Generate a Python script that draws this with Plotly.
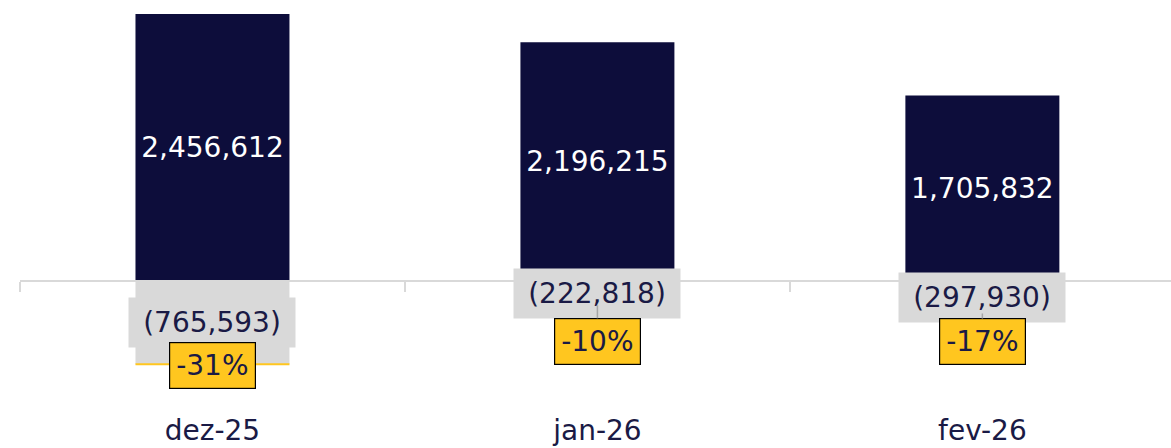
import plotly.graph_objects as go

# ---- data ----
categories = ["dez-25", "jan-26", "fev-26"]
positive_values = [2456612, 2196215, 1705832]
negative_values = [-765593, -222818, -297930]
pct_change = [-0.31, -0.10, -0.17]

# ---- style ----
NAVY = "#0D0D3B"
GREY = "#D9D9D9"
YELLOW = "#FFC61F"
TEXT_NAVY = "#1A1A45"
FONT = "DejaVu Sans"
FW = 400
pct_label_offsets_px = [1, 36, 28]   # how far each % label sits below its bar end

W, H = 1171, 448
M_L, M_R, M_T, M_B = 20, 0, 0, 37
plot_h = H - M_T - M_B
zero_px = 281                      # pixel row of the zero line
units_per_px = 9201.0
y_max = zero_px * units_per_px
y_min = -(plot_h - zero_px) * units_per_px
x_range = [-0.5, 2.49]

fig = go.Figure()
fig.add_trace(go.Bar(
    x=categories, y=positive_values, width=0.4,
    marker=dict(color=NAVY, line=dict(width=0)),
    texttemplate="%{y:,}", textposition="inside", insidetextanchor="middle",
    textangle=0, textfont=dict(family=FONT, size=28, color="white", weight=FW),
    hoverinfo="skip",
))
fig.add_trace(go.Bar(
    x=categories, y=negative_values, width=0.4,
    marker=dict(color=GREY, line=dict(width=0)),
    hoverinfo="skip",
))
fig.add_trace(go.Bar(
    x=categories, y=pct_change, width=0.4,
    marker=dict(color=YELLOW, line=dict(color=YELLOW, width=2)),
    hoverinfo="skip",
))
# invisible helper trace so the zero-line axis (x2) is drawn
fig.add_trace(go.Scatter(x=[None], y=[None], xaxis="x2", yaxis="y",
                         mode="markers", hoverinfo="skip", showlegend=False))

# grey value labels for negative bars
for c, v in zip(categories, negative_values):
    fig.add_annotation(
        x=c, y=v / 2, xref="x", yref="y", text=f"({abs(v):,})",
        showarrow=False, bgcolor=GREY, width=164, height=47,
        font=dict(family=FONT, size=28, color=TEXT_NAVY, weight=FW),
    )

# yellow percentage labels
for c, v, p, off in zip(categories, negative_values, pct_change, pct_label_offsets_px):
    fig.add_annotation(
        x=c, y=v, xref="x", yref="y", text=f"{p:.0%}",
        showarrow=True, ax=0, ay=off, arrowhead=0, arrowwidth=1.5,
        arrowcolor="#A6A6A6", standoff=0, startstandoff=0,
        bgcolor=YELLOW, bordercolor="black", borderwidth=1.2, borderpad=6,
        font=dict(family=FONT, size=28, color=TEXT_NAVY, weight=FW),
    )

zero_pos = -y_min / (y_max - y_min)

fig.update_layout(
    width=W, height=H,
    margin=dict(l=M_L, r=M_R, t=M_T, b=M_B, pad=0, autoexpand=False),
    barmode="relative",
    plot_bgcolor="white", paper_bgcolor="white",
    showlegend=False,
    xaxis=dict(
        type="category", categoryorder="array", categoryarray=categories,
        range=x_range, showline=False, showgrid=False, zeroline=False,
        ticks="", automargin=False,
        tickfont=dict(family=FONT, size=28, color=TEXT_NAVY, weight=FW),
    ),
    xaxis2=dict(
        overlaying="x", anchor="free", position=zero_pos, side="bottom",
        range=x_range, showline=True, linecolor=GREY, linewidth=2,
        tickvals=[-0.5, 0.5, 1.5, 2.5], ticks="outside", ticklen=10,
        tickwidth=2, tickcolor=GREY, showticklabels=False, automargin=False,
        showgrid=False, zeroline=False,
    ),
    yaxis=dict(range=[y_min, y_max], visible=False, showgrid=False,
               zeroline=False, automargin=False),
)

fig.write_html("out.html", config={"displayModeBar": False},
               post_script="document.body.style.margin='0';")
